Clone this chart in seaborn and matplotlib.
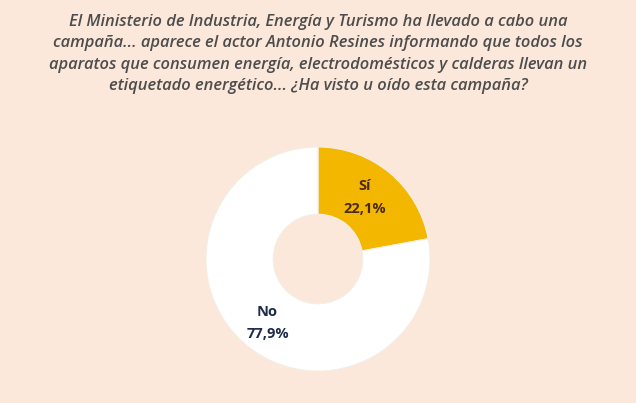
import matplotlib.pyplot as plt
import seaborn as sns

# Datos del gráfico
labels = ['Sí', 'No']
values = [22.1, 77.9]
colors = ['#f4b700', '#ffffff']
text_colors = ['#4a2a14', '#1e2b4a']

title = ('El Ministerio de Industria, Energía y Turismo ha llevado a cabo una\n'
         'campaña... aparece el actor Antonio Resines informando que todos los\n'
         'aparatos que consumen energía, electrodomésticos y calderas llevan un\n'
         'etiquetado energético... ¿Ha visto u oído esta campaña?')

sns.set_theme(style='white')
plt.rcParams['font.family'] = ['Open Sans', 'DejaVu Sans']

bg = '#fbe8da'
fig = plt.figure(figsize=(6.36, 4.03), dpi=100, facecolor=bg)
ax = fig.add_axes([(318 - 112) / 636, 1 - (259 + 112) / 403, 224 / 636, 224 / 403])
ax.set_facecolor(bg)

wedges, _ = ax.pie(values, colors=colors, startangle=90, counterclock=False,
                   wedgeprops=dict(width=0.6, edgecolor='#f3eee6', linewidth=0.8))
ax.set_xlim(-1.0, 1.0)
ax.set_ylim(-1.0, 1.0)
ax.set_aspect('equal')

# Etiquetas dentro del anillo
label_pos = [(0.42, 0.55), (-0.45, -0.57)]
for lab, val, tc, (x, y) in zip(labels, values, text_colors, label_pos):
    ax.text(x, y, f'{lab}\n{val:.1f}%'.replace('.', ','), ha='center', va='center',
            fontsize=10.5, fontweight='bold', color=tc, linespacing=1.75)

fig.text(0.5, 1 - 54 / 403, title, ha='center', va='center', fontsize=11.85,
         style='italic', fontweight='semibold', color='#4d4d4d', linespacing=1.47)

fig.savefig('out.png', dpi=100, facecolor=bg)
